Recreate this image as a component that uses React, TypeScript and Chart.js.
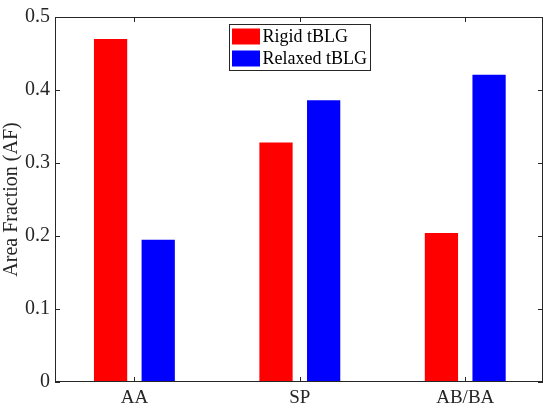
import Chart from "chart.js/auto";
import type { Plugin } from "chart.js";
import { useEffect, useRef } from "react";

const categories = ["AA", "SP", "AB/BA"];
const seriesNames = ["Rigid tBLG", "Relaxed tBLG"];
const rigidValues = [0.47, 0.328, 0.204];
const relaxedValues = [0.195, 0.386, 0.421];
const yTickLabels = ["0", "0.1", "0.2", "0.3", "0.4", "0.5"];

const FONT = "'Liberation Serif', 'Times New Roman', serif";
const AXIS_COLOR = "#262626";

// MATLAB-like box with inward ticks on all four sides
const boxPlugin: Plugin<"bar"> = {
  id: "matlabBox",
  afterDraw(chart) {
    const { ctx, chartArea: a } = chart;
    const xs = chart.scales.x;
    const ys = chart.scales.y;
    const len = 5;
    ctx.save();
    ctx.strokeStyle = AXIS_COLOR;
    ctx.lineWidth = 1;
    ctx.strokeRect(a.left + 0.5, a.top + 0.5, a.right - a.left - 1, a.bottom - a.top - 1);
    ctx.beginPath();
    xs.ticks.forEach((_, i) => {
      const px = Math.round(xs.getPixelForTick(i)) + 0.5;
      ctx.moveTo(px, a.bottom);
      ctx.lineTo(px, a.bottom - len);
      ctx.moveTo(px, a.top);
      ctx.lineTo(px, a.top + len);
    });
    ys.ticks.forEach((_, i) => {
      const py = Math.round(ys.getPixelForTick(i)) + 0.5;
      ctx.moveTo(a.left, py);
      ctx.lineTo(a.left + len, py);
      ctx.moveTo(a.right, py);
      ctx.lineTo(a.right - len, py);
    });
    ctx.stroke();
    ctx.restore();
  }
};

// legend box inside the plot, top centre
const legendPlugin: Plugin<"bar"> = {
  id: "innerLegend",
  afterDraw(chart) {
    const { ctx, chartArea: a } = chart;
    const sets = chart.data.datasets;
    ctx.save();
    ctx.font = `18px ${FONT}`;
    const textW = Math.max(...sets.map((d) => ctx.measureText(String(d.label)).width));
    const w = Math.round(textW + 37);
    const rowH = 22;
    const h = sets.length * rowH + 2;
    const x = Math.round((a.left + a.right) / 2 - w / 2) + 0.5;
    const y = a.top + 7.5;
    ctx.fillStyle = "#ffffff";
    ctx.fillRect(x, y, w, h);
    ctx.strokeStyle = AXIS_COLOR;
    ctx.lineWidth = 1;
    ctx.strokeRect(x, y, w, h);
    sets.forEach((d, i) => {
      const ry = y + 4 + i * rowH;
      ctx.fillStyle = String(d.backgroundColor);
      ctx.fillRect(x + 2.5, ry, 28, 16);
      ctx.fillStyle = "#000000";
      ctx.textBaseline = "middle";
      ctx.textAlign = "left";
      ctx.fillText(String(d.label), x + 33, ry + 8.5);
    });
    ctx.restore();
  }
};

export default function App() {
  const canvasRef = useRef<HTMLCanvasElement | null>(null);

  useEffect(() => {
    document.body.style.margin = "0";
    const canvas = canvasRef.current;
    if (!canvas) return;

    const toPoints = (vals: number[]) => vals.map((v, i) => ({ x: i + 1, y: v }));

    const chart = new Chart(canvas, {
      type: "bar",
      data: {
        datasets: [
          {
            label: seriesNames[0],
            data: toPoints(rigidValues),
            backgroundColor: "#ff0000",
            categoryPercentage: 0.576,
            barPercentage: 0.698
          },
          {
            label: seriesNames[1],
            data: toPoints(relaxedValues),
            backgroundColor: "#0000ff",
            categoryPercentage: 0.576,
            barPercentage: 0.698
          }
        ]
      },
      options: {
        responsive: true,
        maintainAspectRatio: false,
        animation: false,
        layout: { padding: { top: 13, right: 7, left: 0, bottom: 0 } },
        plugins: {
          legend: { display: false },
          tooltip: { enabled: false }
        },
        scales: {
          x: {
            type: "linear",
            min: 0.52,
            max: 3.47,
            offset: false,
            grid: { display: false, drawTicks: false },
            border: { display: false },
            afterBuildTicks: (scale) => {
              scale.ticks = categories.map((_, i) => ({ value: i + 1 }));
            },
            afterFit: (scale) => {
              scale.height = 28;
            },
            ticks: {
              autoSkip: false,
              maxRotation: 0,
              padding: 5,
              color: AXIS_COLOR,
              font: { family: FONT, size: 19 },
              callback: (v) => categories[Number(v) - 1] ?? ""
            }
          },
          y: {
            min: 0,
            max: 0.5,
            grid: { display: false, drawTicks: false },
            border: { display: false },
            afterFit: (scale) => {
              scale.width = 55;
            },
            ticks: {
              stepSize: 0.1,
              padding: 5,
              color: AXIS_COLOR,
              font: { family: FONT, size: 20 },
              callback: (_, index) => yTickLabels[index]
            },
            title: {
              display: true,
              text: "Area Fraction (AF)",
              color: AXIS_COLOR,
              font: { family: FONT, size: 20 },
              padding: { top: 0, bottom: 0 }
            }
          }
        }
      },
      plugins: [boxPlugin, legendPlugin]
    });

    return () => chart.destroy();
  }, []);

  return (
    <div style={{ width: 550, height: 410, position: "relative" }}>
      <canvas ref={canvasRef} />
    </div>
  );
}
